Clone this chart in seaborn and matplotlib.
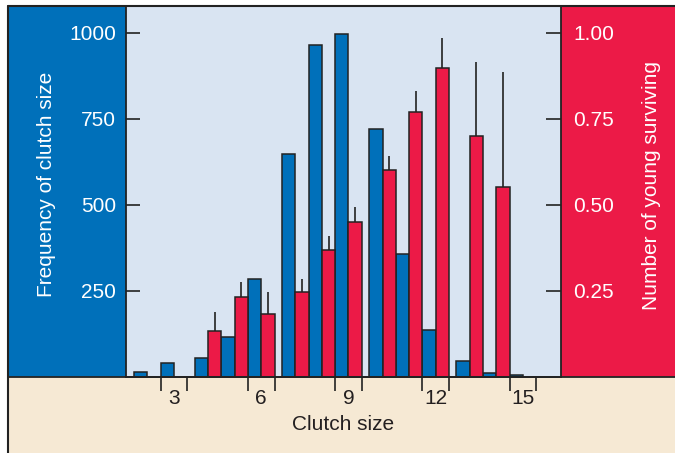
import matplotlib
matplotlib.use("Agg")
import matplotlib.pyplot as plt
import numpy as np
import pandas as pd
import seaborn as sns
from matplotlib.lines import Line2D
from matplotlib.patches import Rectangle

# clutch size -> number of nests with that clutch (blue bars, left axis)
freq_clutch = [2, 3, 4, 5, 6, 7, 8, 9, 10, 11, 12, 13, 14, 15]
freq_count = [14, 40, 54, 115, 284, 647, 963, 997, 721, 357, 136, 46, 12, 6]

# clutch size -> young surviving (red bars, right axis) and top of error bar
surv_clutch = [4, 5, 6, 7, 8, 9, 10, 11, 12, 13, 14]
surv_mean = [0.134, 0.232, 0.184, 0.248, 0.369, 0.450, 0.601, 0.769, 0.896, 0.700, 0.552]
surv_upper = [0.189, 0.275, 0.246, 0.285, 0.409, 0.493, 0.641, 0.830, 0.983, 0.915, 0.885]

label_clutch = [3, 6, 9, 12, 15]
left_ticks = [250, 500, 750, 1000]
right_ticks = [0.25, 0.50, 0.75, 1.00]

BLUE = "#0070BA"
RED = "#EC1A47"
PLOT_BG = "#D9E4F2"
BEIGE = "#F6E9D4"
EDGE = "#222222"
TEXT = "#231F20"

GAP = 0.28  # extra space between groups of three clutch sizes


def slot(c):
    c = np.asarray(c, dtype=float)
    return c + GAP * ((c - 1) // 3)


sns.set_theme(style="white")
plt.rcParams["font.family"] = ["Liberation Sans", "DejaVu Sans"]

W, H = 675, 453
fig = plt.figure(figsize=(W / 100, H / 100), dpi=100)
fig.patch.set_facecolor("white")


def fx(px):
    return px / W


def fy(py):
    return 1 - py / H


# coloured panels behind the axes
fig.add_artist(Rectangle((fx(8), fy(377)), fx(126) - fx(8), fy(6) - fy(377),
                         transform=fig.transFigure, color=BLUE, zorder=-2))
fig.add_artist(Rectangle((fx(561), fy(377)), 1 - fx(561), fy(6) - fy(377),
                         transform=fig.transFigure, color=RED, zorder=-2))
fig.add_artist(Rectangle((fx(8), 0), 1 - fx(8), fy(377),
                         transform=fig.transFigure, color=BEIGE, zorder=-2))

ax = fig.add_axes([fx(126), fy(377), fx(561) - fx(126), fy(6) - fy(377)])
ax.set_facecolor(PLOT_BG)

df_freq = pd.DataFrame({"x": slot(freq_clutch) - 0.25, "count": freq_count})
sns.barplot(data=df_freq, x="x", y="count", native_scale=True, width=0.5, orient="x",
            color=BLUE, saturation=1, edgecolor=EDGE, linewidth=1.1, ax=ax)

ax2 = ax.twinx()
df_surv = pd.DataFrame({"x": slot(surv_clutch) + 0.25, "young": surv_mean})
sns.barplot(data=df_surv, x="x", y="young", native_scale=True, width=0.5, orient="x",
            color=RED, saturation=1, edgecolor=EDGE, linewidth=1.1, errorbar=None, ax=ax2)
ax2.vlines(slot(surv_clutch) + 0.25, surv_mean, surv_upper, color=EDGE, lw=1.2, zorder=3)

ax.set_xlim(1.195, 17.55)
ax.set_ylim(0, 1077)
ax2.set_ylim(0, 1.077)

# y axes
ax.set_yticks(left_ticks)
ax.set_yticklabels([str(v) for v in left_ticks])
ax.tick_params(axis="y", left=True, right=False, direction="in", length=10, width=1.2,
               color=EDGE, labelcolor="white", labelsize=15, pad=7)
ax2.set_yticks(right_ticks)
ax2.set_yticklabels([f"{v:.2f}" for v in right_ticks])
ax2.tick_params(axis="y", right=True, left=False, direction="in", length=11, width=1.2,
                color=EDGE, labelcolor="white", labelsize=15, pad=9)

# x axis: labels at clutch slots, small ticks at slot edges
ax.set_xticks(slot(label_clutch))
ax.set_xticklabels([str(c) for c in label_clutch])
ax.set_xticks(np.concatenate([slot(label_clutch) - 0.5, slot(label_clutch) + 0.5]), minor=True)
ax.tick_params(axis="x", which="major", bottom=True, length=0, pad=9, labelsize=15, labelcolor=TEXT)
ax.tick_params(axis="x", which="minor", bottom=True, direction="out", length=10, width=1.2, color=EDGE)

ax.set_xlabel("Clutch size", fontsize=15, color=TEXT, labelpad=5)
ax.set_ylabel("Frequency of clutch size", fontsize=15, color="white")
ax.yaxis.set_label_coords(-0.162, 0.52)
ax2.set_ylabel("Number of young surviving", fontsize=15, color="white")
ax2.yaxis.set_label_coords(1.186, 0.517)

for name, sp in ax.spines.items():
    sp.set_visible(name != "top")
    sp.set_color(EDGE)
    sp.set_linewidth(1.3)
for sp in ax2.spines.values():
    sp.set_visible(False)

# frame lines along the top, left and the baseline
fig.add_artist(Line2D([fx(8), 1], [fy(6), fy(6)], transform=fig.transFigure, color=EDGE, lw=1.5))
fig.add_artist(Line2D([fx(8), fx(8)], [fy(6), 0], transform=fig.transFigure, color=EDGE, lw=1.5))
fig.add_artist(Line2D([fx(8), 1], [fy(377), fy(377)], transform=fig.transFigure, color=EDGE, lw=1.3))

fig.savefig("out.png", dpi=100)
